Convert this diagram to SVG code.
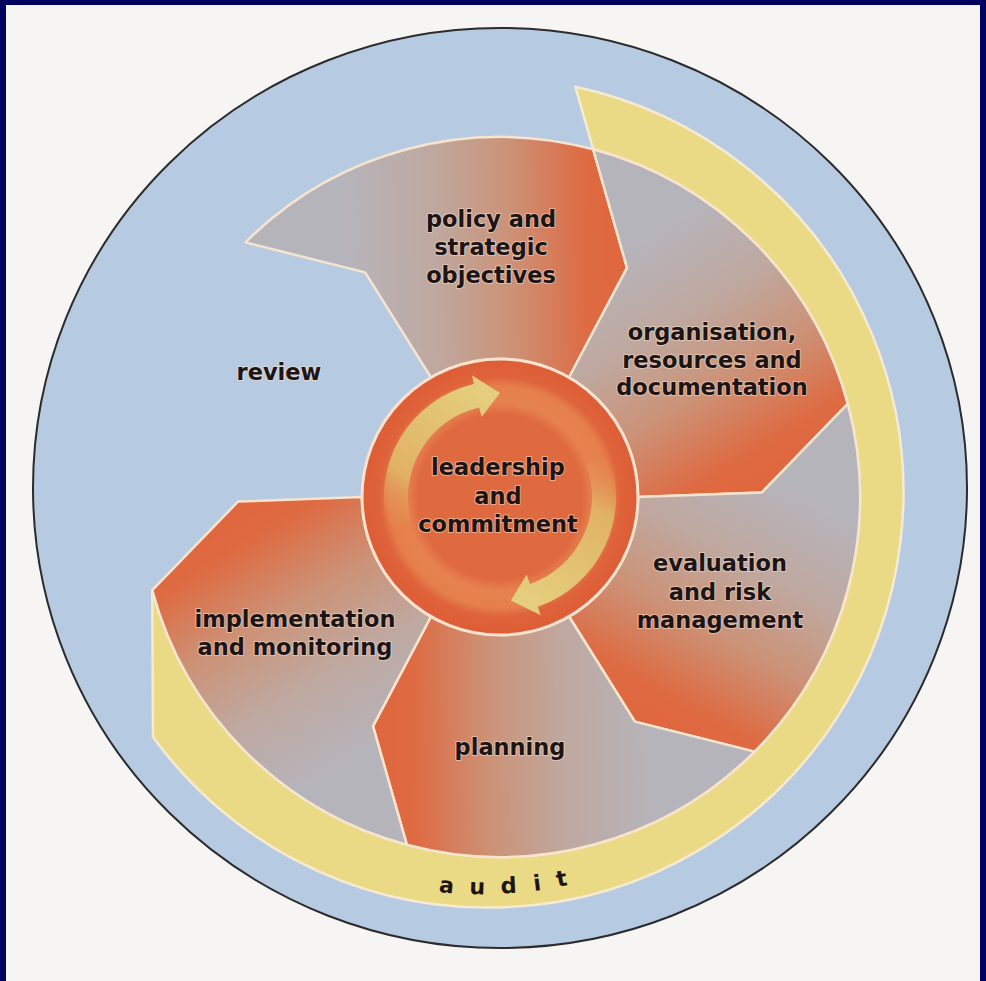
<svg xmlns="http://www.w3.org/2000/svg" width="986" height="981" viewBox="0 0 986 981">
  <defs>
    <style>
      .seg { stroke: #f7e4cf; stroke-width: 2.5; stroke-linejoin: round; }
      .lbl { font-family: "DejaVu Sans", "Open Sans", sans-serif; font-weight: 700; font-size: 22.5px; fill: #1d1515; text-anchor: middle; stroke: #f6e2d2; stroke-opacity: 0.55; stroke-width: 2; paint-order: stroke; stroke-linejoin: round; }
      .audit { font-family: "DejaVu Sans", "Open Sans", sans-serif; font-weight: 700; font-size: 22px; fill: #1d1515; text-anchor: middle; }
    </style>
    <linearGradient id="gPolicy" gradientUnits="userSpaceOnUse" x1="345.5" y1="239.8" x2="645.4" y2="234.6">
      <stop offset="0" stop-color="#b6b4bb"/><stop offset="0.3" stop-color="#bfa89f"/><stop offset="0.55" stop-color="#cc9277"/><stop offset="0.8" stop-color="#de6b43"/><stop offset="1" stop-color="#e2633a"/>
    </linearGradient>
    <linearGradient id="gOrg" gradientUnits="userSpaceOnUse" x1="645.4" y1="234.6" x2="800" y2="491.8">
      <stop offset="0" stop-color="#b6b4bb"/><stop offset="0.3" stop-color="#bfa89f"/><stop offset="0.55" stop-color="#cc9277"/><stop offset="0.8" stop-color="#de6b43"/><stop offset="1" stop-color="#e2633a"/>
    </linearGradient>
    <linearGradient id="gEval" gradientUnits="userSpaceOnUse" x1="800" y1="491.8" x2="654.5" y2="754.2">
      <stop offset="0" stop-color="#b6b4bb"/><stop offset="0.3" stop-color="#bfa89f"/><stop offset="0.55" stop-color="#cc9277"/><stop offset="0.8" stop-color="#de6b43"/><stop offset="1" stop-color="#e2633a"/>
    </linearGradient>
    <linearGradient id="gPlan" gradientUnits="userSpaceOnUse" x1="654.5" y1="754.2" x2="354.6" y2="759.4">
      <stop offset="0" stop-color="#b6b4bb"/><stop offset="0.3" stop-color="#bfa89f"/><stop offset="0.55" stop-color="#cc9277"/><stop offset="0.8" stop-color="#de6b43"/><stop offset="1" stop-color="#e2633a"/>
    </linearGradient>
    <linearGradient id="gImpl" gradientUnits="userSpaceOnUse" x1="354.6" y1="759.4" x2="200" y2="502.2">
      <stop offset="0" stop-color="#b6b4bb"/><stop offset="0.3" stop-color="#bfa89f"/><stop offset="0.55" stop-color="#cc9277"/><stop offset="0.8" stop-color="#de6b43"/><stop offset="1" stop-color="#e2633a"/>
    </linearGradient>
    <radialGradient id="gCore" gradientUnits="userSpaceOnUse" cx="500" cy="497" r="138">
      <stop offset="0" stop-color="#e06a40"/><stop offset="0.6" stop-color="#e06a40"/><stop offset="0.68" stop-color="#e6824f"/><stop offset="0.8" stop-color="#e5804d"/><stop offset="0.87" stop-color="#df633a"/><stop offset="1" stop-color="#dd5d36"/>
    </radialGradient>
    <linearGradient id="gArrow" gradientUnits="userSpaceOnUse" x1="395" y1="535" x2="480" y2="395">
      <stop offset="0" stop-color="#e6874f" stop-opacity="0"/><stop offset="0.35" stop-color="#e1b266"/><stop offset="1" stop-color="#e4cd7c"/>
    </linearGradient>
  </defs>

  <!-- page frame and background -->
  <rect x="0" y="0" width="986" height="981" fill="#000060"/>
  <rect x="6" y="5" width="974" height="976" fill="#f6f5f3"/>

  <!-- outer blue disc -->
  <ellipse id="disc" cx="500" cy="488" rx="467" ry="460" fill="#b6cbe2" stroke="#2b2b2b" stroke-width="2"/>

  <!-- audit band -->
  <g id="audit">
    <path d="M 575.4,86.8 A 415 415 0 1 1 153,737 L 152.3,590.2 A 360 360 0 1 0 593.2,149.3 Z" fill="#ead985" stroke="#f7ead2" stroke-width="2.5" stroke-linejoin="round"/>
    <text class="audit" x="446 477 509 538 563" y="892 894 893.5 891 887" rotate="6 2 -3 -7 -11">audit</text>
  </g>

  <!-- segments -->
  <g id="policy">
    <path class="seg" fill="url(#gPolicy)" d="M 431,377.5 L 365.1,272.4 L 245.4,242.4 A 360 360 0 0 1 593.2,149.3 L 627,267.8 L 569,377.5 A 138 138 0 0 0 431,377.5 Z"/>
    <text class="lbl" x="491" y="227">policy and</text>
    <text class="lbl" x="491" y="255">strategic</text>
    <text class="lbl" x="491" y="283">objectives</text>
  </g>
  <g id="organisation">
    <path class="seg" fill="url(#gOrg)" d="M 569,377.5 L 627,267.8 L 593.2,149.3 A 360 360 0 0 1 847.7,403.8 L 762,492.4 L 638,497 A 138 138 0 0 0 569,377.5 Z"/>
    <text class="lbl" x="712" y="340">organisation,</text>
    <text class="lbl" x="712" y="368">resources and</text>
    <text class="lbl" x="712" y="395">documentation</text>
  </g>
  <g id="evaluation">
    <path class="seg" fill="url(#gEval)" d="M 638,497 L 762,492.4 L 847.7,403.8 A 360 360 0 0 1 754.6,751.6 L 634.9,721.6 L 569,616.5 A 138 138 0 0 0 638,497 Z"/>
    <text class="lbl" x="720" y="571">evaluation</text>
    <text class="lbl" x="720" y="600">and risk</text>
    <text class="lbl" x="720" y="628">management</text>
  </g>
  <g id="planning">
    <path class="seg" fill="url(#gPlan)" d="M 569,616.5 L 634.9,721.6 L 754.6,751.6 A 360 360 0 0 1 406.8,844.7 L 373,726.2 L 431,616.5 A 138 138 0 0 0 569,616.5 Z"/>
    <text class="lbl" x="510" y="755">planning</text>
  </g>
  <g id="implementation">
    <path class="seg" fill="url(#gImpl)" d="M 431,616.5 L 373,726.2 L 406.8,844.7 A 360 360 0 0 1 152.3,590.2 L 238,501.6 L 362,497 A 138 138 0 0 0 431,616.5 Z"/>
    <text class="lbl" x="295" y="627">implementation</text>
    <text class="lbl" x="295" y="655">and monitoring</text>
  </g>
  <g id="review">
    <text class="lbl" x="279" y="380">review</text>
  </g>

  <!-- centre -->
  <g id="leadership">
    <circle cx="500" cy="497" r="138" fill="url(#gCore)" stroke="#f7e2cf" stroke-width="3"/>
    <g id="cycle-arrows">
      <path fill="url(#gArrow)" d="M 387.9,527 A 116 116 0 0 1 473.9,384 L 471.9,375.2 L 500,393 L 481.6,417.1 L 479.3,407.4 A 92 92 0 0 0 411.1,520.8 Z"/>
      <path fill="url(#gArrow)" transform="rotate(174 500 497)" d="M 387.9,527 A 116 116 0 0 1 473.9,384 L 471.9,375.2 L 500,393 L 481.6,417.1 L 479.3,407.4 A 92 92 0 0 0 411.1,520.8 Z"/>
    </g>
    <text class="lbl" x="498" y="475">leadership</text>
    <text class="lbl" x="498" y="504">and</text>
    <text class="lbl" x="498" y="532">commitment</text>
  </g>
</svg>
